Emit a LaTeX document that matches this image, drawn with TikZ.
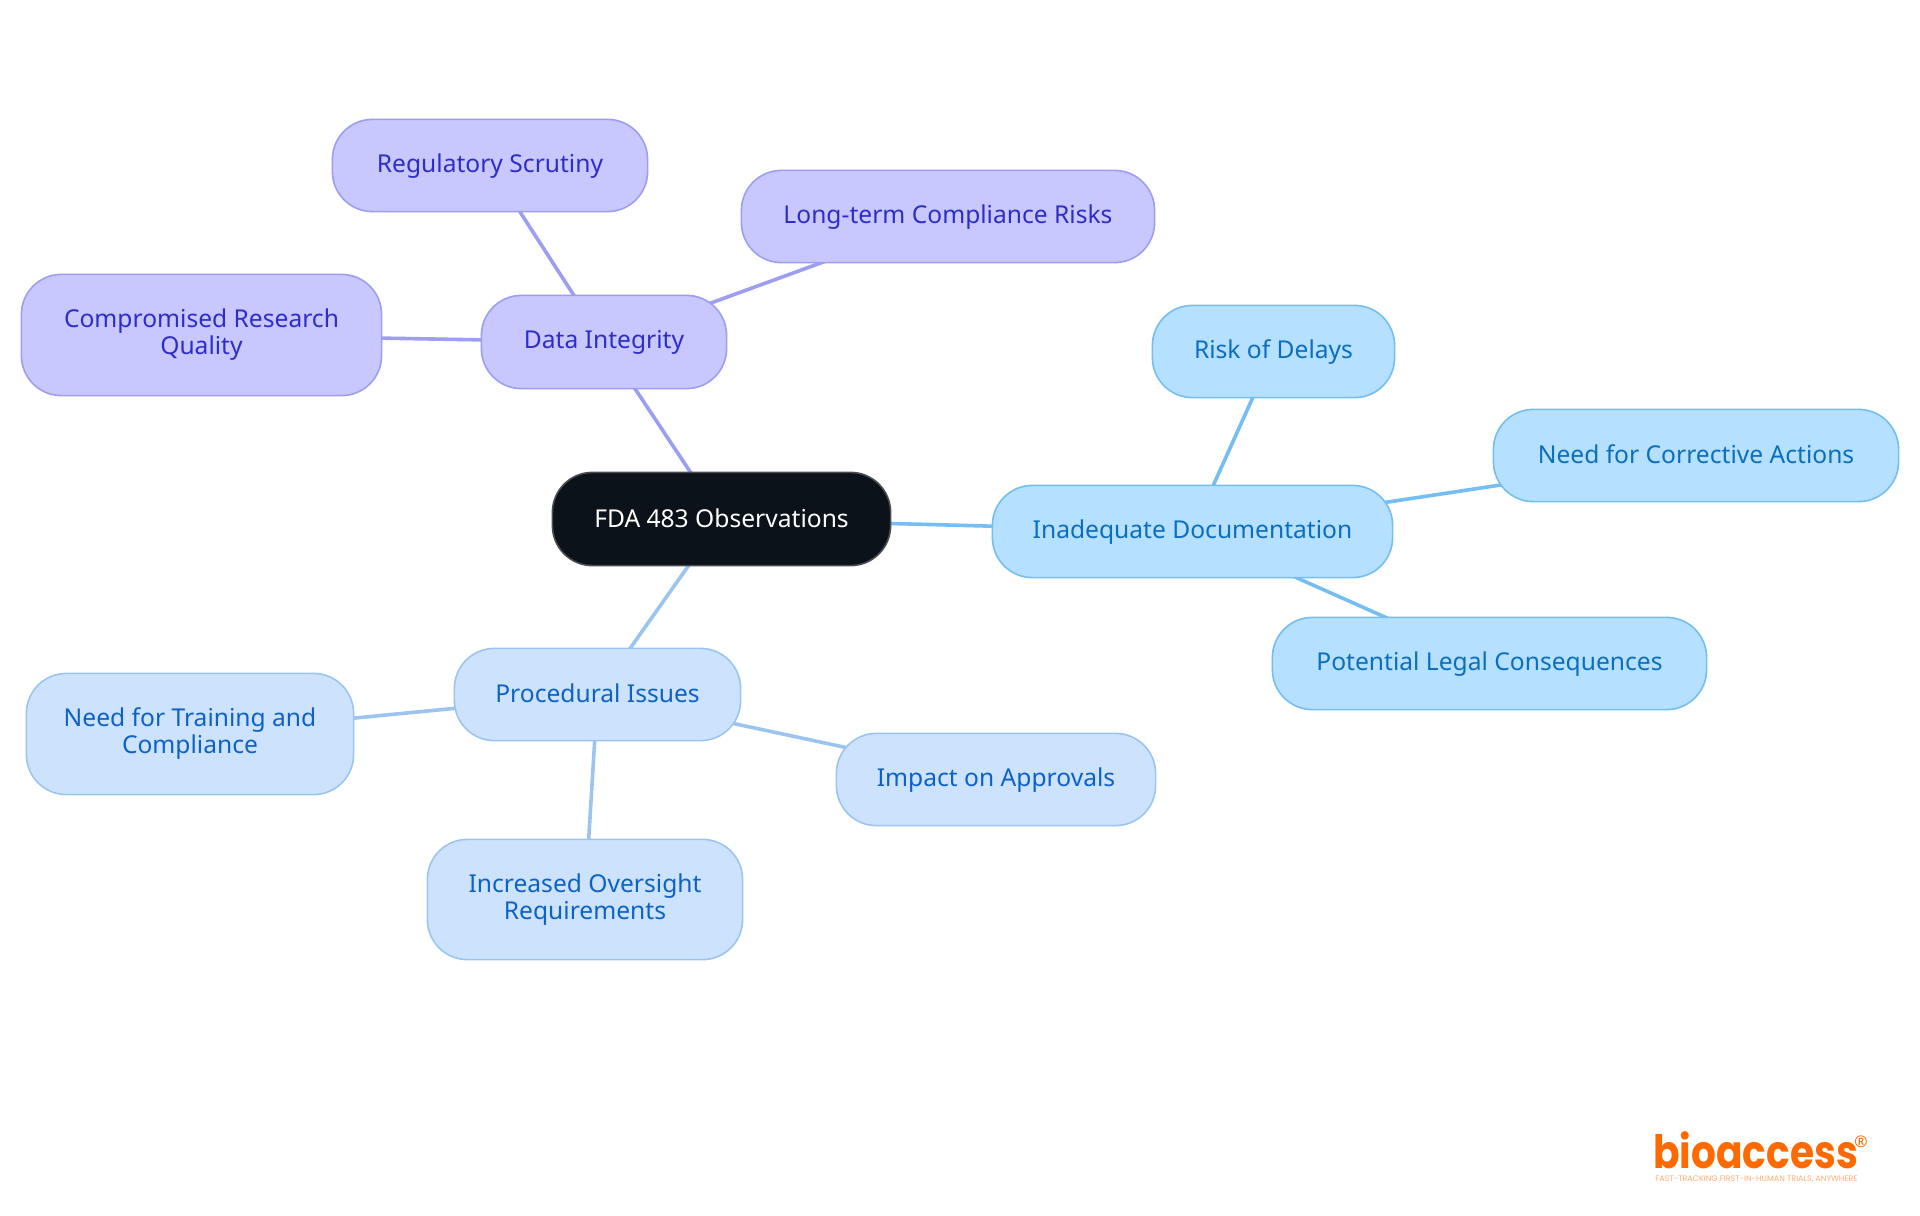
\documentclass[tikz,border=0pt]{standalone}
\usepackage{fontspec}
\usepackage{graphicx}
\setmainfont{Noto Sans}
\newfontfamily\logofont{Poppins}
\usetikzlibrary{backgrounds}
\definecolor{rootfill}{HTML}{0B121A}
\definecolor{rootline}{HTML}{4A4E52}
\definecolor{datafill}{HTML}{C8C8FE}
\definecolor{dataline}{HTML}{9D9DF2}
\definecolor{datatext}{HTML}{2D2DC9}
\definecolor{docfill}{HTML}{B5E0FF}
\definecolor{docline}{HTML}{74BEF3}
\definecolor{doctext}{HTML}{0B6EBE}
\definecolor{procfill}{HTML}{CDE3FD}
\definecolor{procline}{HTML}{9BC4F0}
\definecolor{proctext}{HTML}{0C62C6}
\definecolor{logoorange}{HTML}{FF6A00}
\tikzset{
  x=0.5pt,y=-0.5pt,
  pill/.style={rounded corners=20pt,line width=0.8pt,align=center,inner sep=0pt,
    font=\fontsize{12.3}{13.5}\selectfont,
    execute at begin node={\rule{0pt}{9.5pt}},
    execute at end node={\rule[-1.5pt]{0pt}{1.5pt}}},
  rootpill/.style={pill,fill=rootfill,draw=rootline,text=white},
  datapill/.style={pill,fill=datafill,draw=dataline,text=datatext},
  docpill/.style={pill,fill=docfill,draw=docline,text=doctext},
  procpill/.style={pill,fill=procfill,draw=procline,text=proctext},
  link/.style={line width=1.8pt},
}
\newcommand{\pillnode}[7]{\node[#2,minimum width=#5*0.5pt-#3*0.5pt-0.4pt,minimum height=#6*0.5pt-#4*0.5pt-0.4pt] (#1) at ({(#3+#5)/2},{(#4+#6)/2}) {#7};}
\begin{document}
\begin{tikzpicture}
\useasboundingbox (0,0) rectangle (1920,1215);
\pillnode{root}{rootpill}{552}{472}{891}{566}{FDA 483 Observations}
\pillnode{data}{datapill}{481}{295}{727}{389}{Data Integrity}
\pillnode{reg}{datapill}{332}{119}{648}{212}{Regulatory Scrutiny}
\pillnode{long}{datapill}{741}{170}{1155}{263}{Long-term Compliance Risks}
\pillnode{comp}{datapill}{21}{274}{382}{396}{Compromised Research\\Quality}
\pillnode{doc}{docpill}{992}{485}{1393}{578}{Inadequate Documentation}
\pillnode{risk}{docpill}{1152}{305}{1395}{398}{Risk of Delays}
\pillnode{corr}{docpill}{1493}{409}{1899}{502}{Need for Corrective Actions}
\pillnode{legal}{docpill}{1272}{617}{1707}{710}{Potential Legal Consequences}
\pillnode{proc}{procpill}{454}{648}{741}{741}{Procedural Issues}
\pillnode{train}{procpill}{26}{673}{354}{795}{Need for Training and\\Compliance}
\pillnode{impact}{procpill}{836}{733}{1156}{826}{Impact on Approvals}
\pillnode{over}{procpill}{427}{839}{743}{960}{Increased Oversight\\Requirements}
\begin{scope}[on background layer]
\draw[link,dataline] (root.center) -- (data.center);
\draw[link,dataline] (data.center) -- (reg.center);
\draw[link,dataline] (data.center) -- (long.center);
\draw[link,dataline] (data.center) -- (comp.center);
\draw[link,docline] (root.center) -- (doc.center);
\draw[link,docline] (doc.center) -- (risk.center);
\draw[link,docline] (doc.center) -- (corr.center);
\draw[link,docline] (doc.center) -- (legal.center);
\draw[link,procline] (root.center) -- (proc.center);
\draw[link,procline] (proc.center) -- (train.center);
\draw[link,procline] (proc.center) -- (impact.center);
\draw[link,procline] (proc.center) -- (over.center);
\end{scope}
\node[anchor=base west,inner sep=0pt,text=logoorange,font={\logofont\bfseries\fontsize{23}{23}\selectfont}] (logo) at (1653,1168) {\scalebox{0.85}[1]{bioaccess}};
\node[anchor=center,inner sep=0pt,text=logoorange,font={\bfseries\fontsize{8}{8}\selectfont}] (regmark) at (1861,1142) {®};
\node[anchor=base west,inner sep=0pt,text=logoorange!55,font={\logofont\fontsize{4}{5}\selectfont}] (tag) at (1655,1181) {FAST-TRACKING FIRST-IN-HUMAN TRIALS, ANYWHERE};
\end{tikzpicture}
\end{document}
